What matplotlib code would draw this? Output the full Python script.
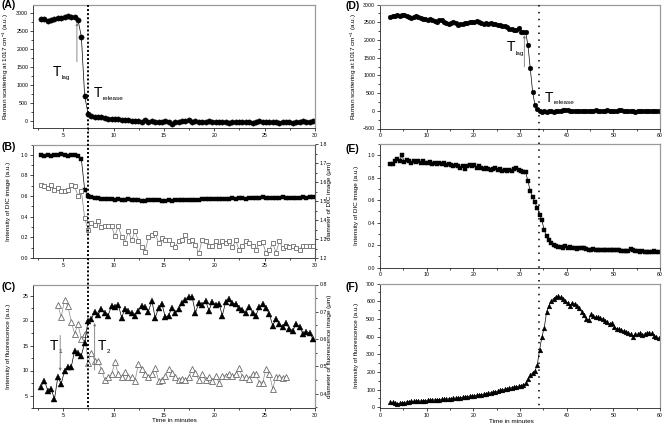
import numpy as np
import matplotlib
matplotlib.use('Agg')
import matplotlib.pyplot as plt
from matplotlib.ticker import MultipleLocator
from matplotlib.lines import Line2D
from matplotlib.transforms import blended_transform_factory

# ── Data ─────────────────────────────────────────────────────────
# left column: samples every 20 s starting at 2.8 min
t_left0, dt_left = 2.8, 1 / 3.0
raman_a = [2820, 2840, 2770, 2800, 2830, 2850, 2860, 2880, 2920, 2890,
           2870, 2800, 2340, 680, 200, 130, 110, 110, 100, 70,
           60, 40, 50, 40, 30, 10, 20, 0, -10, 0,
           -20, 10, -20, -10, -20, -30, -20, -10, -40, -90,
           -30, -20, 0, -10, 30, -20, -10, -30, -20, -20,
           -10, -30, -20, -40, -40, -30, -50, -40, -30, -20,
           -40, -20, -30, -50, -30, 0, -20, -20, -30, -40,
           -20, -50, -30, -40, -30, -50, -20, -40, -10, -30,
           -20, -10]
dic_int_b = [1.00, 0.99, 1.00, 0.99, 1.00, 1.00, 1.01, 1.00, 0.99, 1.00,
             1.00, 0.99, 0.96, 0.66, 0.60, 0.59, 0.585, 0.58, 0.575, 0.575,
             0.57, 0.57, 0.565, 0.57, 0.565, 0.56, 0.57, 0.565, 0.56, 0.56,
             0.555, 0.55, 0.56, 0.565, 0.56, 0.56, 0.555, 0.555, 0.56, 0.555,
             0.56, 0.56, 0.565, 0.56, 0.565, 0.565, 0.56, 0.565, 0.57, 0.57,
             0.57, 0.575, 0.57, 0.575, 0.57, 0.575, 0.575, 0.58, 0.575, 0.58,
             0.58, 0.575, 0.585, 0.58, 0.585, 0.58, 0.59, 0.585, 0.58, 0.585,
             0.58, 0.585, 0.59, 0.585, 0.58, 0.585, 0.58, 0.585, 0.59, 0.585,
             0.59, 0.595]
dic_diam_b = [1.584, 1.579, 1.570, 1.584, 1.561, 1.570, 1.552, 1.552, 1.561, 1.584,
              1.579, 1.529, 1.555, 1.411, 1.349, 1.385, 1.376, 1.393, 1.362, 1.367,
              1.371, 1.367, 1.317, 1.367, 1.313, 1.281, 1.341, 1.295, 1.341, 1.291,
              1.260, 1.234, 1.313, 1.322, 1.331, 1.281, 1.304, 1.295, 1.296, 1.274,
              1.257, 1.292, 1.296, 1.322, 1.290, 1.293, 1.270, 1.225, 1.297, 1.292,
              1.262, 1.262, 1.290, 1.266, 1.290, 1.281, 1.290, 1.257, 1.293, 1.243,
              1.262, 1.290, 1.281, 1.266, 1.243, 1.277, 1.285, 1.225, 1.243, 1.277,
              1.229, 1.290, 1.252, 1.266, 1.257, 1.266, 1.252, 1.243, 1.266, 1.262,
              1.262, 1.266]
fluo_c = [6.8, 8.0, 6.0, 6.3, 4.3, 8.7, 7.3, 10.0, 10.7, 10.7,
          14.0, 13.5, 13.0, 15.6, 20.0, 20.3, 21.8, 21.2, 22.3, 21.5,
          21.0, 23.0, 22.8, 23.2, 20.6, 22.3, 22.0, 21.5, 21.0, 22.0,
          23.0, 22.7, 21.8, 24.0, 20.5, 22.5, 23.3, 20.7, 21.0, 22.5,
          21.6, 22.3, 23.5, 24.2, 24.8, 24.7, 21.5, 23.6, 23.2, 24.0,
          22.0, 23.7, 23.2, 23.4, 21.0, 23.8, 24.3, 23.5, 23.3, 22.5,
          22.2, 21.5, 22.8, 21.5, 21.0, 22.7, 23.3, 22.5, 21.3, 19.0,
          20.3, 19.3, 18.8, 19.5, 18.3, 18.0, 19.3, 18.8, 17.3, 17.8,
          17.5, 16.3]
fluo_diam_c = [0.725, 0.680, 0.744, 0.720, 0.664, 0.620, 0.655, 0.600, 0.620, 0.513,
               0.550, 0.520, 0.520, 0.486, 0.450, 0.460, 0.470, 0.515, 0.470, 0.460,
               0.480, 0.460, 0.460, 0.447, 0.510, 0.490, 0.470, 0.460, 0.470, 0.495,
               0.447, 0.450, 0.465, 0.490, 0.475, 0.462, 0.450, 0.455, 0.450, 0.460,
               0.490, 0.475, 0.450, 0.470, 0.450, 0.460, 0.445, 0.465, 0.440, 0.465,
               0.465, 0.470, 0.465, 0.470, 0.495, 0.460, 0.460, 0.455, 0.472, 0.470,
               0.440, 0.440, 0.490, 0.472, 0.418, 0.462, 0.462, 0.458, 0.460]
fluo_diam_start = 5  # index on the left time grid (4.47 min)

# right column: samples every 30 s starting at 2.2 min
t_right0, dt_right = 2.2, 0.5
raman_d = [2660, 2680, 2680, 2690, 2680, 2700, 2690, 2670, 2660, 2620,
           2640, 2670, 2650, 2630, 2600, 2580, 2560, 2590, 2550, 2540,
           2520, 2550, 2570, 2500, 2480, 2460, 2490, 2510, 2470, 2430,
           2450, 2440, 2470, 2480, 2500, 2510, 2500, 2530, 2520, 2470,
           2450, 2480, 2460, 2470, 2440, 2450, 2420, 2410, 2400, 2380,
           2360, 2320, 2300, 2270, 2290, 2340, 2230, 2220, 2220, 1850,
           1200, 540, 170, 40, -20, -40, -20, -30, -10, -20,
           -30, -10, -20, 0, 10, 20, 10, 0, -10, -20,
           0, -10, -20, 0, -10, -20, 0, -10, 10, -10,
           0, -20, -10, 10, -10, 0, -10, 0, 10, 20,
           0, -10, -20, 0, -10, -30, -20, 0, -10, -20,
           -10, 0, -20, -10, -20, -10]
dic_int_e = [0.92, 0.92, 0.95, 0.97, 0.95, 1.00, 0.94, 0.96, 0.95, 0.93,
             0.95, 0.94, 0.95, 0.93, 0.95, 0.93, 0.93, 0.94, 0.92, 0.93,
             0.92, 0.93, 0.92, 0.93, 0.91, 0.92, 0.91, 0.90, 0.91, 0.90,
             0.89, 0.90, 0.88, 0.90, 0.91, 0.90, 0.91, 0.89, 0.90, 0.89,
             0.88, 0.89, 0.88, 0.87, 0.88, 0.89, 0.87, 0.88, 0.86, 0.87,
             0.86, 0.87, 0.86, 0.88, 0.89, 0.87, 0.86, 0.85, 0.85, 0.77,
             0.68, 0.63, 0.58, 0.53, 0.47, 0.42, 0.33, 0.28, 0.245, 0.22,
             0.20, 0.19, 0.185, 0.18, 0.175, 0.19, 0.17, 0.18, 0.17, 0.175,
             0.165, 0.17, 0.17, 0.175, 0.165, 0.16, 0.16, 0.165, 0.155, 0.16,
             0.155, 0.16, 0.155, 0.16, 0.155, 0.155, 0.16, 0.155, 0.16, 0.15,
             0.15, 0.145, 0.15, 0.165, 0.155, 0.145, 0.15, 0.14, 0.145, 0.14,
             0.135, 0.14, 0.14, 0.145, 0.14, 0.14]
fluo_f = [30, 28, 25, 20, 22, 25, 27, 30, 32, 33,
          33, 35, 36, 35, 37, 38, 40, 40, 41, 42,
          43, 44, 45, 46, 46, 48, 49, 50, 52, 54,
          55, 57, 59, 61, 63, 64, 66, 68, 70, 72,
          74, 77, 79, 82, 85, 88, 91, 95, 98, 101,
          104, 108, 111, 114, 116, 119, 122, 125, 135, 160,
          180, 195, 205, 240, 325, 400, 450, 540, 575, 600,
          615, 625, 628, 622, 615, 600, 590, 575, 590, 585,
          575, 560, 540, 520, 500, 495, 525, 515, 510, 510,
          505, 500, 490, 480, 470, 475, 455, 445, 440, 435,
          432, 428, 420, 415, 400, 415, 412, 418, 410, 415,
          420, 420, 418, 405, 395, 390]

t_release_left, t_release_right = 7.5, 34.0

t_left = t_left0 + dt_left * np.arange(len(raman_a))
t_right = t_right0 + dt_right * np.arange(len(raman_d))
t_c_open = t_left[fluo_diam_start:fluo_diam_start + len(fluo_diam_c)]

# ── Style ────────────────────────────────────────────────────────
plt.rcParams.update({
    "font.family": ["Liberation Sans", "DejaVu Sans"],
    "mathtext.fontset": "custom",
    "mathtext.rm": "Liberation Sans",
    "mathtext.default": "regular",
    "axes.linewidth": 0.6,
})
TICK_FS = 3.8
LAB_FS = 4.6
W, H = 664.0, 428.0


def box(l, t, r, b):
    return [l / W, 1 - b / H, (r - l) / W, (b - t) / H]


def style(ax, xmaj, xmin, ymaj, ymin):
    ax.xaxis.set_major_locator(MultipleLocator(xmaj))
    ax.xaxis.set_minor_locator(MultipleLocator(xmin))
    ax.yaxis.set_major_locator(MultipleLocator(ymaj))
    ax.yaxis.set_minor_locator(MultipleLocator(ymin))
    ax.tick_params(which="both", direction="out", labelsize=TICK_FS,
                   width=0.5, pad=1.2, top=False, right=False)
    ax.tick_params(which="major", length=2.3)
    ax.tick_params(which="minor", length=1.3)
    for s in ["left", "bottom"]:
        ax.spines[s].set_color("#222222")
        ax.spines[s].set_linewidth(0.6)
    for s in ["top", "right"]:
        ax.spines[s].set_color("#9a9a9a")
        ax.spines[s].set_linewidth(0.9)


def style_twin(tw, ymaj, ymin):
    tw.yaxis.set_major_locator(MultipleLocator(ymaj))
    tw.yaxis.set_minor_locator(MultipleLocator(ymin))
    tw.tick_params(which="both", direction="out", labelsize=TICK_FS,
                   width=0.5, pad=1.2)
    tw.tick_params(which="major", length=2.3)
    tw.tick_params(which="minor", length=1.3)
    for s in ["left", "bottom", "top"]:
        tw.spines[s].set_visible(False)
    tw.spines["right"].set_color("#555555")
    tw.spines["right"].set_linewidth(0.7)


def tlabel(ax, x, y, sub, size=10, subsize=4.6, drop=2.2):
    ax.text(x, y, "T", fontsize=size, ha="left", va="baseline")
    ax.annotate(sub, xy=(x, y), xycoords="data",
                xytext=(size * 0.64, -drop), textcoords="offset points",
                fontsize=subsize, ha="left", va="baseline")


def arrow(ax, x, y_from, y_to):
    ax.annotate("", xy=(x, y_to), xytext=(x, y_from),
                arrowprops=dict(arrowstyle="-|>", color="#7a7a7a",
                                lw=0.6, mutation_scale=3.5,
                                shrinkA=0, shrinkB=0))


fig = plt.figure(figsize=(6.64, 4.28), dpi=100)

axA = fig.add_axes(box(33, 4.5, 315, 128))
axB = fig.add_axes(box(33, 144.5, 315, 258))
axC = fig.add_axes(box(33, 284.5, 315, 408))
axD = fig.add_axes(box(380, 4.5, 660, 128.5))
axE = fig.add_axes(box(380, 144, 660, 267.5))
axF = fig.add_axes(box(380, 283.5, 660, 408))

# (A) Raman, left
axA.plot(t_left, raman_a, "-o", color="black", lw=0.5, ms=3.8,
         mec="black", mew=0.3)
axA.set_xlim(2, 30)
axA.set_ylim(-200, 3230)
style(axA, 5, 2.5, 500, 250)
axA.set_ylabel("Raman scattering at 1017 cm$^{-1}$ (a.u.)", fontsize=LAB_FS)
axA.yaxis.set_label_coords(-0.078, 0.5)
tlabel(axA, 4.0, 1250, "lag")
tlabel(axA, 8.02, 667, "release")
arrow(axA, 6.36, 1640, 2720)

# (B) DIC intensity + diameter
axB.plot(t_left, dic_int_b, "-s", color="black", lw=0.5, ms=2.8,
         mec="black", mew=0.3, zorder=3)
axB.set_xlim(2, 30)
axB.set_ylim(0, 1.1)
style(axB, 5, 2.5, 0.2, 0.1)
axB.set_ylabel("Intensity of DIC image (a.u.)", fontsize=LAB_FS)
axB.yaxis.set_label_coords(-0.078, 0.5)
twB = axB.twinx()
twB.plot(t_left, dic_diam_b, "-s", color="#808080", lw=0.5, ms=3.3,
         mfc="white", mec="#6a6a6a", mew=0.6)
twB.set_ylim(1.2, 1.8)
style_twin(twB, 0.1, 0.05)
twB.set_ylabel("diameter of DIC image (\u03bcm)", fontsize=LAB_FS)
twB.yaxis.set_label_coords(1.043, 0.5)

# (C) fluorescence intensity + diameter
axC.plot(t_left, fluo_c, "-^", color="black", lw=0.5, ms=3.9,
         mec="black", mew=0.3, zorder=3)
axC.set_xlim(2, 30)
axC.set_ylim(2.5, 27.2)
style(axC, 5, 2.5, 5, 2.5)
axC.set_ylabel("Intensity of fluorescence (a.u.)", fontsize=LAB_FS)
axC.yaxis.set_label_coords(-0.078, 0.5)
axC.set_xlabel("Time in minutes", fontsize=LAB_FS)
axC.xaxis.set_label_coords(0.5, -0.085)
twC = axC.twinx()
twC.plot(t_c_open, fluo_diam_c, "-^", color="#8a8a8a", lw=0.5, ms=4.2,
         mfc="white", mec="#6a6a6a", mew=0.6)
twC.set_ylim(0.347, 0.8)
style_twin(twC, 0.1, 0.05)
twC.set_ylabel("diameter of fluorescence image (\u03bcm)", fontsize=LAB_FS)
twC.yaxis.set_label_coords(1.043, 0.5)
tlabel(axC, 3.64, 14.0, "1", drop=1.5)
tlabel(axC, 8.45, 14.0, "2", drop=1.5)
arrow(axC, 4.7, 17.0, 9.9)
arrow(axC, 8.12, 10.1, 19.5)
axC.set_zorder(twC.get_zorder() + 1)
axC.patch.set_visible(False)

# (D) Raman, right
axD.plot(t_right, raman_d, "-o", color="black", lw=0.5, ms=3.4,
         mec="black", mew=0.3)
axD.set_xlim(0, 60)
axD.set_ylim(-500, 3000)
style(axD, 10, 5, 500, 250)
axD.set_ylabel("Raman scattering at 1017 cm$^{-1}$ (a.u.)", fontsize=LAB_FS)
axD.yaxis.set_label_coords(-0.075, 0.5)
tlabel(axD, 27.15, 1695, "lag", drop=2.8)
tlabel(axD, 35.4, 259, "release", drop=2.0)
arrow(axD, 30.93, 1244, 2136)

# (E) DIC intensity, right
axE.plot(t_right, dic_int_e, "-s", color="black", lw=0.5, ms=3.0,
         mec="black", mew=0.3)
axE.set_xlim(0, 60)
axE.set_ylim(0, 1.1)
style(axE, 10, 5, 0.2, 0.1)
axE.set_ylabel("Intensity of DIC image (a.u.)", fontsize=LAB_FS)
axE.yaxis.set_label_coords(-0.075, 0.5)

# (F) fluorescence intensity, right
axF.plot(t_right, fluo_f, "-^", color="black", lw=0.5, ms=3.4,
         mec="black", mew=0.3)
axF.set_xlim(0, 60)
axF.set_ylim(-4, 700)
style(axF, 10, 5, 100, 50)
axF.set_ylabel("Intensity of fluorescence (a.u.)", fontsize=LAB_FS)
axF.yaxis.set_label_coords(-0.075, 0.5)
axF.set_xlabel("Time in minutes", fontsize=LAB_FS)
axF.xaxis.set_label_coords(0.47, -0.085)

# ── Dotted release lines spanning each column ────────────────────
trL = blended_transform_factory(axA.transData, fig.transFigure)
fig.add_artist(Line2D([t_release_left, t_release_left],
                      [1 - 4.5 / H, 1 - 408 / H], transform=trL,
                      color="black", lw=1.4, ls=(0, (1.0, 1.1)),
                      dash_capstyle="butt"))
trR = blended_transform_factory(axD.transData, fig.transFigure)
fig.add_artist(Line2D([t_release_right, t_release_right],
                      [1 - 4.5 / H, 1 - 406 / H], transform=trR,
                      color="black", lw=1.1, ls=(0, (1.0, 3.5)),
                      dash_capstyle="butt"))

# ── Panel letters ────────────────────────────────────────────────
for lab, x, y in [("(A)", 2, 0), ("(B)", 2, 142), ("(C)", 2, 282),
                  ("(D)", 345, 1), ("(E)", 345, 144), ("(F)", 345, 282)]:
    fig.text(x / W, 1 - y / H, lab, fontsize=7.5, fontweight="bold",
             ha="left", va="top")

fig.savefig("out.png", dpi=100)
